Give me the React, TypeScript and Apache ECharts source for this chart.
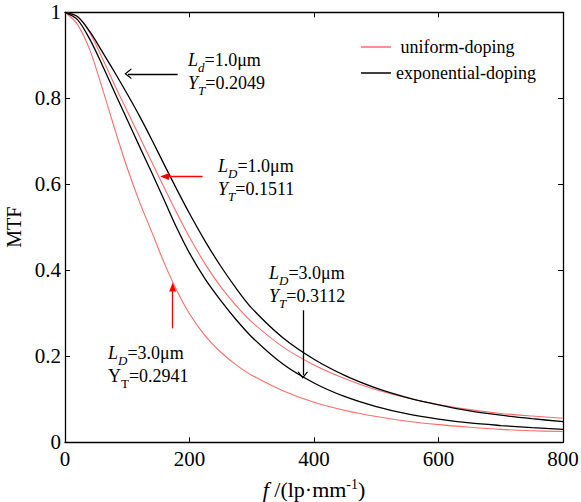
import React, { useEffect, useRef } from "react";
import * as echarts from "echarts";

const FONT = '"Liberation Serif", "Times New Roman", Times, serif';

// spatial frequency f (lp/mm)
const freqs = [0, 20, 40, 60, 80, 100, 120, 140, 160, 180, 200, 225, 250, 275, 300, 350, 400, 450, 500, 550, 600, 650, 700, 750, 800];

// MTF values
const uniform3 = [1, 0.972, 0.912, 0.823, 0.728, 0.638, 0.558, 0.487, 0.415, 0.352, 0.299, 0.248, 0.21, 0.18, 0.156, 0.12, 0.093, 0.074, 0.06, 0.049, 0.041, 0.035, 0.03, 0.027, 0.025];
const exp3 = [1, 0.983, 0.937, 0.877, 0.813, 0.75, 0.687, 0.625, 0.561, 0.497, 0.44, 0.38, 0.33, 0.285, 0.245, 0.182, 0.138, 0.106, 0.083, 0.066, 0.054, 0.045, 0.039, 0.034, 0.03];
const uniform1 = [1, 0.99, 0.952, 0.893, 0.83, 0.77, 0.71, 0.65, 0.59, 0.532, 0.477, 0.415, 0.362, 0.318, 0.28, 0.222, 0.18, 0.148, 0.122, 0.103, 0.088, 0.076, 0.067, 0.061, 0.056];
const exp1 = [1, 0.99, 0.955, 0.908, 0.86, 0.81, 0.758, 0.702, 0.644, 0.587, 0.532, 0.468, 0.41, 0.358, 0.312, 0.243, 0.193, 0.155, 0.126, 0.104, 0.087, 0.073, 0.063, 0.055, 0.048];

const legendNames = ["uniform-doping", "exponential-doping"];
const xTicks = { min: 0, max: 800, interval: 200 };
const yTicks = { min: 0, max: 1, interval: 0.2 };

// annotation arrows in data coordinates
const arrows = [
  { from: [181, 0.857], to: [101, 0.857], color: "#000000", head: "open" },
  { from: [221, 0.618], to: [160, 0.618], color: "#ff0000", head: "filled" },
  { from: [382, 0.307], to: [382, 0.156], color: "#000000", head: "open" },
  { from: [173, 0.265], to: [173, 0.361], color: "#ff0000", head: "filled" },
];

// annotation texts: [text, style]
const annotations = [
  { x: 188, y: 51, lines: [[["L", "i"], ["d", "isub"], ["=1.0μm", "n"]], [["Y", "i"], ["T", "isub"], ["=0.2049", "n"]]] },
  { x: 218, y: 157, lines: [[["L", "i"], ["D", "isub"], ["=1.0μm", "n"]], [["Y", "i"], ["T", "isub"], ["=0.1511", "n"]]] },
  { x: 269, y: 264, lines: [[["L", "i"], ["D", "isub"], ["=3.0μm", "n"]], [["Y", "i"], ["T", "isub"], ["=0.3112", "n"]]] },
  { x: 108, y: 344, lines: [[["L", "i"], ["D", "isub"], ["=3.0μm", "n"]], [["Y", "n"], ["T", "sub"], ["=0.2941", "n"]]] },
];

const RED = "#ff6b6b";
const BLACK = "#000000";
const OPEN_HEAD = "path://M0,10 L5,0 L10,10 L8.6,10 L5,2.8 L1.4,10 Z";
const FILLED_HEAD = "path://M0,10 L5,0 L10,10 Z";

const pairs = (ys: number[]) => freqs.map((f, i) => [f, ys[i]]);

export default function App() {
  const ref = useRef<HTMLDivElement>(null);
  useEffect(() => {
    if (!ref.current) return;
    const chart = echarts.init(ref.current, null, { renderer: "svg" });

    const rich = {
      i: { fontFamily: FONT, fontStyle: "italic", fontSize: 18, lineHeight: 23, verticalAlign: "top", fill: "#000" },
      n: { fontFamily: FONT, fontSize: 18, lineHeight: 23, verticalAlign: "top", fill: "#000" },
      isub: { fontFamily: FONT, fontStyle: "italic", fontSize: 13, lineHeight: 10, verticalAlign: "bottom", fill: "#000" },
      sub: { fontFamily: FONT, fontSize: 13, lineHeight: 10, verticalAlign: "bottom", fill: "#000" },
    };

    const graphics = annotations.map((a) => ({
      type: "text",
      x: a.x,
      y: a.y,
      silent: true,
      style: {
        text: a.lines.map((ln) => ln.map(([t, s]) => `{${s}|${t}}`).join("")).join("\n"),
        rich,
        align: "left",
        verticalAlign: "top",
        font: `18px ${FONT}`,
      },
    }));

    const axisCommon = {
      type: "value",
      axisLine: { show: true, onZero: false, lineStyle: { color: "#000", width: 1.3 } },
      axisTick: { show: true, inside: true, length: 5, lineStyle: { color: "#000", width: 1 } },
      splitLine: { show: false },
    };

    const lineSeries = (name: string, ys: number[], color: string, width: number, extra: any = {}) => ({
      type: "line",
      name,
      data: pairs(ys),
      smooth: 0.3,
      symbol: "none",
      lineStyle: { color, width },
      itemStyle: { color },
      xAxisIndex: 0,
      yAxisIndex: 0,
      ...extra,
    });

    chart.setOption({
      animation: false,
      backgroundColor: "#ffffff",
      textStyle: { fontFamily: FONT },
      grid: { left: 65, right: 18, top: 12.3, height: 430, containLabel: false, outerBoundsMode: "none" },
      legend: {
        data: legendNames,
        orient: "vertical",
        left: 361,
        top: 38,
        padding: 0,
        itemWidth: 30,
        itemHeight: 1.5,
        itemGap: 8,
        icon: "rect",
        formatter: (n: string) => (n === "uniform-doping" ? " " + n : n),
        textStyle: { fontFamily: FONT, fontSize: 18, color: "#000" },
        selectedMode: false,
      },
      xAxis: [
        {
          ...axisCommon,
          position: "bottom",
          ...xTicks,
          name: "{i|f} /(lp·mm{sup|-1})",
          nameLocation: "middle",
          nameGap: 35,
          nameTextStyle: {
            fontFamily: FONT,
            fontSize: 22,
            color: "#000",
            lineHeight: 24,
            rich: {
              i: { fontFamily: FONT, fontStyle: "italic", fontSize: 22, lineHeight: 24, color: "#000" },
              sup: { fontFamily: FONT, fontSize: 14, lineHeight: 10, verticalAlign: "top", color: "#000" },
            },
          },
          axisLabel: { show: true, fontFamily: FONT, fontSize: 21, color: "#000", margin: 6 },
        },
        {
          ...axisCommon,
          position: "top",
          ...xTicks,
          axisLabel: { show: false },
        },
      ],
      yAxis: [
        {
          ...axisCommon,
          position: "left",
          ...yTicks,
          name: "MTF",
          nameLocation: "middle",
          nameGap: 33,
          nameRotate: 90,
          nameTextStyle: { fontFamily: FONT, fontSize: 20, color: "#000" },
          axisLabel: {
            show: true,
            fontFamily: FONT,
            fontSize: 21,
            color: "#000",
            margin: 4,
            formatter: (v: number) => String(+v.toFixed(1)),
          },
        },
        {
          ...axisCommon,
          position: "right",
          ...yTicks,
          axisLabel: { show: false },
        },
      ],
      series: [
        lineSeries("uniform-doping", uniform1, RED, 1.1),
        lineSeries("uniform-doping", uniform3, RED, 1.1),
        lineSeries("exponential-doping", exp1, BLACK, 1.3),
        lineSeries("exponential-doping", exp3, BLACK, 1.3, {
          markLine: {
            silent: true,
            symbol: ["none", "arrow"],
            symbolSize: [8, 9],
            label: { show: false },
            emphasis: { disabled: true },
            data: arrows.map((a) => [
              {
                coord: a.from,
                symbol: "none",
                lineStyle: { color: a.color, width: 1.3, type: "solid" },
                itemStyle: { color: a.color },
              },
              {
                coord: a.to,
                symbol: a.head === "open" ? OPEN_HEAD : FILLED_HEAD,
                symbolSize: a.head === "open" ? [11, 7] : [7, 9],
              },
            ]),
          },
        }),
      ],
      graphic: graphics,
    });
    return () => chart.dispose();
  }, []);
  return (
    <div
      ref={ref}
      style={{ position: "fixed", left: 0, top: 0, width: 581, height: 502, background: "#fff" }}
    />
  );
}
